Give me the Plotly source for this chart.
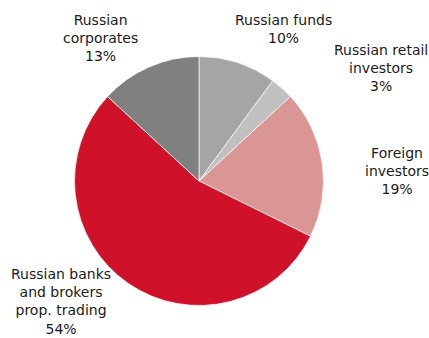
import plotly.graph_objects as go

# Ownership breakdown, clockwise from 12 o'clock
categories = [
    "Russian funds",
    "Russian retail investors",
    "Foreign investors",
    "Russian banks and brokers prop. trading",
    "Russian corporates",
]
shares = [10, 3, 19, 54, 13]
slice_colors = ["#a5a5a5", "#c0c0c0", "#d99694", "#cf1229", "#808080"]

# Outside label text (line breaks as drawn) and label centres in pixels
label_lines = [
    ["Russian funds"],
    ["Russian retail", "investors"],
    ["Foreign", "investors"],
    ["Russian banks", "and brokers", "prop. trading"],
    ["Russian", "corporates"],
]
label_pos = [(283, 28.5), (381, 68), (397, 171), (61, 301.5), (100, 38)]

W, H = 429, 338
cx, cy, r = 199, 181, 124.5

fig = go.Figure(
    go.Pie(
        labels=categories,
        values=shares,
        marker=dict(colors=slice_colors, line=dict(color="white", width=0.7)),
        sort=False,
        direction="clockwise",
        rotation=0,
        textinfo="none",
        hoverinfo="label+percent",
        showlegend=False,
        domain=dict(
            x=[(cx - r) / W, (cx + r) / W],
            y=[(H - cy - r) / H, (H - cy + r) / H],
        ),
    )
)

for lines, share, (px, py) in zip(label_lines, shares, label_pos):
    fig.add_annotation(
        text="<br>".join(lines + [f"{share}%"]),
        x=px / W,
        y=1 - py / H,
        xref="paper",
        yref="paper",
        xanchor="center",
        yanchor="middle",
        showarrow=False,
        align="center",
        font=dict(family="DejaVu Sans", size=14, color="#1a1a1a"),
    )

fig.update_layout(
    width=W,
    height=H,
    margin=dict(l=0, r=0, t=0, b=0),
    paper_bgcolor="white",
    plot_bgcolor="white",
)

fig.write_html("out.html")
